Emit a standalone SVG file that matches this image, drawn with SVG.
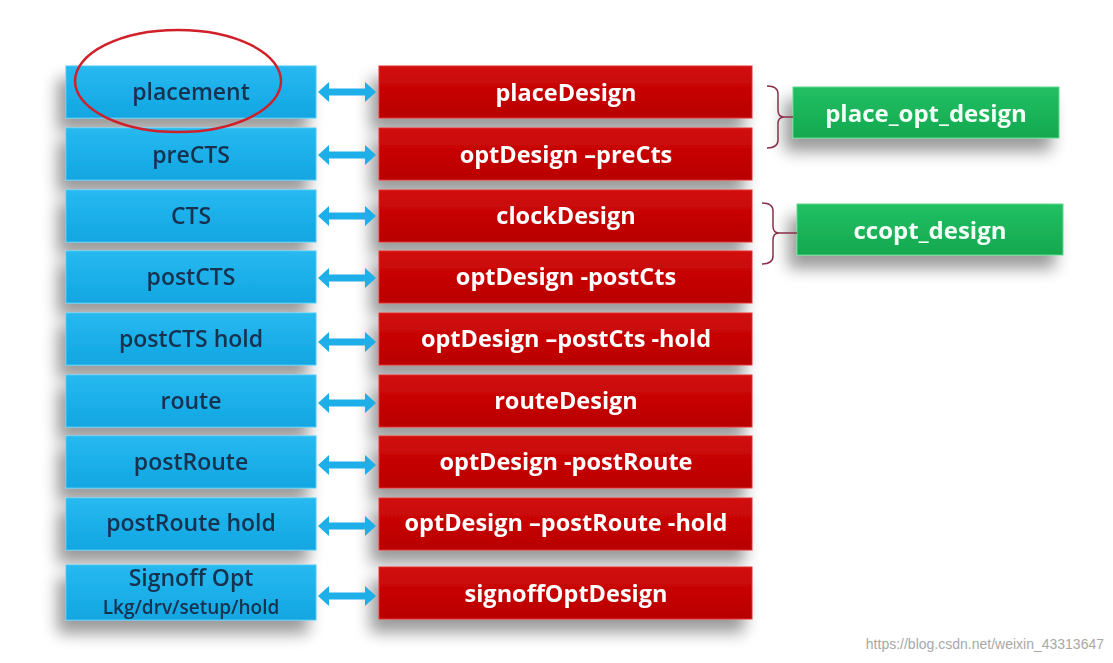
<svg xmlns="http://www.w3.org/2000/svg" width="1113" height="663" viewBox="0 0 1113 663">
<defs>
<filter id="sh" x="-20%" y="-30%" width="140%" height="180%">
<feGaussianBlur in="SourceAlpha" stdDeviation="8"/>
<feOffset dx="-8" dy="13"/>
<feComponentTransfer><feFuncA type="linear" slope="0.4"/></feComponentTransfer>
<feMerge><feMergeNode/><feMergeNode in="SourceGraphic"/></feMerge>
</filter>
<linearGradient id="gb" x1="0" y1="0" x2="0" y2="1">
<stop offset="0" stop-color="#27b9f0"/><stop offset="1" stop-color="#12a6e2"/>
</linearGradient>
<linearGradient id="gr" x1="0" y1="0" x2="0" y2="1">
<stop offset="0" stop-color="#d20a0a"/><stop offset="1" stop-color="#b80000"/>
</linearGradient>
<linearGradient id="gg" x1="0" y1="0" x2="0" y2="1">
<stop offset="0" stop-color="#22c063"/><stop offset="1" stop-color="#14a84f"/>
</linearGradient>
<path id="dar" d="M0,0 L11,-10 L11,-3.5 L47,-3.5 L47,-10 L58,0 L47,10 L47,3.5 L11,3.5 L11,10 Z"/>
</defs>
<style>
.b{fill:url(#gb);stroke:#4cc8f5;stroke-width:1}
.r{fill:url(#gr);stroke:#e03030;stroke-width:1}
.g{fill:url(#gg);stroke:#5fd88e;stroke-width:1}
.tb{font-family:"Open Sans","Liberation Sans",sans-serif;font-size:23px;font-weight:600;fill:#13304f;text-anchor:middle}
.tb2{font-family:"Open Sans","Liberation Sans",sans-serif;font-size:19px;font-weight:600;fill:#13304f;text-anchor:middle}
.tw{font-family:"Open Sans","Liberation Sans",sans-serif;font-size:23.5px;font-weight:bold;fill:#ffffff;text-anchor:middle}
.tg{font-family:"Open Sans","Liberation Sans",sans-serif;font-size:24px;font-weight:bold;fill:#f2fff6;text-anchor:middle}
.arr{fill:#1eaee8}
.br{fill:none;stroke:#8a3048;stroke-width:1.5}
</style>
<rect width="1113" height="663" fill="#ffffff"/>
<g id="left" filter="url(#sh)">
<g id="n-placement"><rect class="b" x="66" y="66" width="250" height="52"/><text class="tb" x="191" y="100">placement</text></g>
<g id="n-preCTS"><rect class="b" x="66" y="128" width="250" height="52"/><text class="tb" x="191" y="163">preCTS</text></g>
<g id="n-CTS"><rect class="b" x="66" y="190" width="250" height="52"/><text class="tb" x="191" y="224">CTS</text></g>
<g id="n-postCTS"><rect class="b" x="66" y="251" width="250" height="52"/><text class="tb" x="191" y="285">postCTS</text></g>
<g id="n-postCTShold"><rect class="b" x="66" y="313" width="250" height="52"/><text class="tb" x="191" y="347">postCTS hold</text></g>
<g id="n-route"><rect class="b" x="66" y="375" width="250" height="52"/><text class="tb" x="191" y="409">route</text></g>
<g id="n-postRoute"><rect class="b" x="66" y="436" width="250" height="52"/><text class="tb" x="191" y="470">postRoute</text></g>
<g id="n-postRoutehold"><rect class="b" x="66" y="498" width="250" height="52"/><text class="tb" x="191" y="531">postRoute hold</text></g>
<g id="n-signoff"><rect class="b" x="66" y="565" width="250" height="55"/><text class="tb" x="191" y="586">Signoff Opt</text><text class="tb2" x="191" y="614">Lkg/drv/setup/hold</text></g>
</g>
<g id="right" filter="url(#sh)">
<g id="n-placeDesign"><rect class="r" x="379" y="66" width="373" height="52"/><text class="tw" x="566" y="101">placeDesign</text></g>
<g id="n-optPre"><rect class="r" x="379" y="128" width="373" height="52"/><text class="tw" x="566" y="163">optDesign –preCts</text></g>
<g id="n-clockDesign"><rect class="r" x="379" y="190" width="373" height="52"/><text class="tw" x="566" y="224">clockDesign</text></g>
<g id="n-optPost"><rect class="r" x="379" y="251" width="373" height="52"/><text class="tw" x="566" y="285">optDesign -postCts</text></g>
<g id="n-optPostHold"><rect class="r" x="379" y="313" width="373" height="52"/><text class="tw" x="566" y="347">optDesign –postCts -hold</text></g>
<g id="n-routeDesign"><rect class="r" x="379" y="375" width="373" height="52"/><text class="tw" x="566" y="409">routeDesign</text></g>
<g id="n-optPostRoute"><rect class="r" x="379" y="436" width="373" height="52"/><text class="tw" x="566" y="470">optDesign -postRoute</text></g>
<g id="n-optPostRouteHold"><rect class="r" x="379" y="498" width="373" height="52"/><text class="tw" x="566" y="531">optDesign –postRoute -hold</text></g>
<g id="n-signoffOpt"><rect class="r" x="379" y="567" width="373" height="52"/><text class="tw" x="566" y="602">signoffOptDesign</text></g>
</g>
<g id="far" filter="url(#sh)">
<g id="n-place_opt_design"><rect class="g" x="793" y="87" width="266" height="51"/><text class="tg" x="926" y="122">place_opt_design</text></g>
<g id="n-ccopt_design"><rect class="g" x="797" y="204" width="266" height="51"/><text class="tg" x="930" y="239">ccopt_design</text></g>
</g>
<g id="connectors">
<use href="#dar" class="arr" x="318" y="92"/>
<use href="#dar" class="arr" x="318" y="155"/>
<use href="#dar" class="arr" x="318" y="216"/>
<use href="#dar" class="arr" x="318" y="278"/>
<use href="#dar" class="arr" x="318" y="342"/>
<use href="#dar" class="arr" x="318" y="403"/>
<use href="#dar" class="arr" x="318" y="465"/>
<use href="#dar" class="arr" x="318" y="526"/>
<use href="#dar" class="arr" x="318" y="596"/>
<path class="br" d="M767,86 Q778,86 778,94 L778,110 Q778,117 784,117 L793,117 M784,117 Q778,117 778,124 L778,140 Q778,148 767,148"/>
<path class="br" d="M762,203 Q773,203 773,211 L773,226 Q773,233 779,233 L797,233 M779,233 Q773,233 773,240 L773,256 Q773,264 762,264"/>
</g>
<ellipse cx="178" cy="81" rx="103" ry="51" fill="none" stroke="#d0202a" stroke-width="2.5"/>
<text x="1104" y="649" text-anchor="end" font-family="Liberation Sans, sans-serif" font-size="14" fill="#a8a8a8">https://blog.csdn.net/weixin_43313647</text>
</svg>
